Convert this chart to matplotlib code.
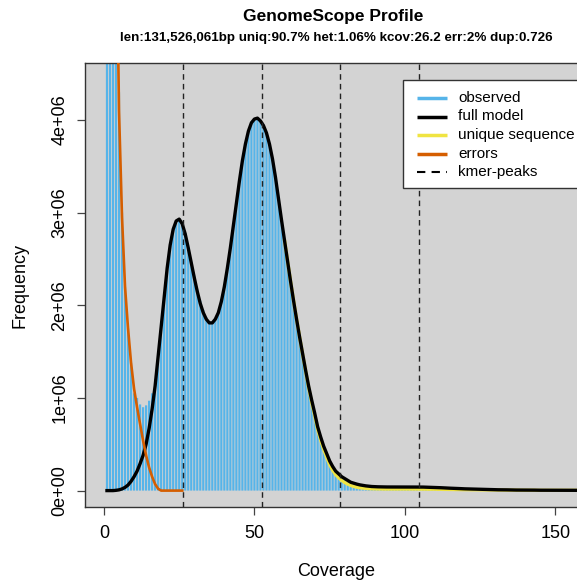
import matplotlib
matplotlib.use("Agg")
import matplotlib.pyplot as plt
from matplotlib.lines import Line2D
from matplotlib.patches import Rectangle
import numpy as np

plt.rcParams['font.family'] = ['Liberation Sans', 'DejaVu Sans']

title = "GenomeScope Profile"
subtitle = "len:131,526,061bp uniq:90.7% het:1.06% kcov:26.2 err:2% dup:0.726"

# coverage values 1..160
coverage = list(range(1, 161))

# full model (x1e6) at coverage 1..160
full_model = [
    0.000, 0.000, 0.000, 0.003, 0.008, 0.018, 0.035, 0.060, 0.100, 0.150,
    0.210, 0.290, 0.380, 0.500, 0.670, 0.880, 1.130, 1.450, 1.780, 2.100,
    2.400, 2.650, 2.820, 2.910, 2.930, 2.880, 2.770, 2.620, 2.460, 2.300,
    2.150, 2.020, 1.920, 1.850, 1.810, 1.810, 1.850, 1.920, 2.040, 2.200,
    2.400, 2.620, 2.860, 3.100, 3.340, 3.560, 3.740, 3.880, 3.970, 4.010,
    4.020, 3.990, 3.940, 3.860, 3.740, 3.580, 3.380, 3.150, 2.920, 2.700,
    2.480, 2.260, 2.050, 1.850, 1.660, 1.480, 1.300, 1.130, 0.980, 0.840,
    0.690, 0.580, 0.480, 0.400, 0.320, 0.260, 0.210, 0.180, 0.150, 0.130,
    0.110, 0.090, 0.080, 0.070, 0.062, 0.056, 0.051, 0.047, 0.044, 0.042,
    0.041, 0.040, 0.040, 0.039, 0.039, 0.039, 0.039, 0.039, 0.039, 0.039,
    0.039, 0.039, 0.039, 0.039, 0.038, 0.038, 0.037, 0.036, 0.035, 0.034,
    0.032, 0.031, 0.029, 0.028, 0.026, 0.025, 0.023, 0.022, 0.020, 0.019,
    0.018, 0.017, 0.016, 0.015, 0.014, 0.013, 0.012, 0.011, 0.011, 0.010,
    0.009, 0.009, 0.008, 0.008, 0.007, 0.007, 0.006, 0.006, 0.006, 0.005,
    0.005, 0.005, 0.005, 0.004, 0.004, 0.004, 0.004, 0.004, 0.004, 0.004,
    0.003, 0.003, 0.003, 0.003, 0.003, 0.003, 0.003, 0.003, 0.003, 0.003,
]

# observed histogram at low coverage (x1e6), coverage 1..18
observed_low = [40.0, 25.0, 14.0, 7.0, 4.3, 3.0, 2.2, 1.75, 1.38, 1.05,
                1.00, 0.93, 0.90, 0.92, 0.97, 1.05, 1.20, 1.47]
# observed histogram from coverage 19 onward (x1e6)
observed_high = [
    1.790, 2.110, 2.410, 2.660, 2.830, 2.920, 2.940, 2.890, 2.780, 2.630,
    2.470, 2.320, 2.170, 2.050, 1.950, 1.870, 1.830, 1.820, 1.860, 1.930,
    2.050, 2.200, 2.400, 2.620, 2.860, 3.100, 3.340, 3.560, 3.740, 3.880,
    3.970, 4.010, 4.020, 3.990, 3.940, 3.860, 3.740, 3.580, 3.380, 3.150,
    2.920, 2.700, 2.480, 2.260, 2.050, 1.850, 1.660, 1.480, 1.300, 1.130,
    0.980, 0.840, 0.690, 0.580, 0.480, 0.400, 0.320, 0.260, 0.210, 0.170,
    0.140, 0.115, 0.095, 0.078, 0.065, 0.055, 0.047, 0.041, 0.036, 0.032,
    0.028, 0.026, 0.024, 0.023, 0.022, 0.022, 0.021, 0.021, 0.021, 0.021,
    0.021, 0.021, 0.021, 0.021, 0.021, 0.021, 0.021, 0.021, 0.020, 0.020,
    0.020, 0.019, 0.019, 0.018, 0.018, 0.017, 0.016, 0.016, 0.015, 0.014,
    0.014, 0.013, 0.012, 0.012, 0.011, 0.011, 0.010, 0.010, 0.009, 0.009,
    0.008, 0.008, 0.007, 0.007, 0.006, 0.006, 0.006, 0.005, 0.005, 0.005,
    0.004, 0.004, 0.004, 0.004, 0.004, 0.003, 0.003, 0.003, 0.003, 0.003,
    0.003, 0.003, 0.003, 0.003, 0.003, 0.003, 0.003, 0.003, 0.003, 0.003,
    0.002, 0.002,
]
observed = observed_low + observed_high

# unique sequence (x1e6), coverage 60..160
unique_start = 60
unique_seq = [
    2.700, 2.480, 2.260, 2.050, 1.850, 1.660, 1.470, 1.290, 1.110, 0.955,
    0.810, 0.660, 0.545, 0.445, 0.360, 0.280, 0.220, 0.172, 0.138, 0.110,
    0.088, 0.070, 0.056, 0.045, 0.037, 0.031, 0.027, 0.024, 0.022, 0.020,
    0.019, 0.018, 0.018, 0.017, 0.017, 0.017, 0.017, 0.017, 0.017, 0.017,
    0.017, 0.017, 0.017, 0.017, 0.017, 0.016, 0.016, 0.016, 0.015, 0.015,
    0.015, 0.014, 0.014, 0.013, 0.013, 0.012, 0.012, 0.011, 0.011, 0.010,
    0.010, 0.010, 0.009, 0.009, 0.009, 0.008, 0.008, 0.008, 0.007, 0.007,
    0.007, 0.006, 0.006, 0.006, 0.005, 0.005, 0.005, 0.005, 0.004, 0.004,
    0.004, 0.004, 0.004, 0.004, 0.003, 0.003, 0.003, 0.003, 0.003, 0.003,
    0.003, 0.003, 0.003, 0.003, 0.003, 0.003, 0.003, 0.003, 0.003, 0.003,
    0.003,
]

# errors (x1e6), coverage 1..26
errors = [30.0, 20.0, 12.0, 6.5, 4.1, 2.95, 2.2, 1.75, 1.38, 1.10,
          0.90, 0.72, 0.54, 0.38, 0.25, 0.15, 0.07, 0.02, 0.0, 0.0,
          0.0, 0.0, 0.0, 0.0, 0.0, 0.0]

kmer_peaks = [26.2, 52.4, 78.6, 104.8]

xticks = [0, 50, 100, 150]
yticks = [0, 1e6, 2e6, 3e6, 4e6]
ytick_labels = ["0e+00", "1e+06", "2e+06", "3e+06", "4e+06"]

legend_labels = ["observed", "full model", "unique sequence", "errors", "kmer-peaks"]

COLOR_BG = "#D3D3D3"
COLOR_HIST = "#56B4E9"
COLOR_4PEAK = "black"
COLOR_2PEAK = "#F0E442"
COLOR_ERRORS = "#D55E00"

W, H = 577, 582
fig = plt.figure(figsize=(W / 100, H / 100), dpi=100)
left_px, right_px, top_px, bot_px = 85, 596, 63, 507
ax = fig.add_axes([left_px / W, 1 - bot_px / H, (right_px - left_px) / W, (bot_px - top_px) / H])
ax.set_facecolor(COLOR_BG)

cov = np.array(coverage)
s = 1e6
bars = ax.bar(cov, np.array(observed) * s, width=0.72, color=COLOR_HIST, linewidth=0, zorder=2)
for b in bars:
    b.set_snap(False)

ux = np.arange(unique_start, unique_start + len(unique_seq))
ax.plot(ux, np.array(unique_seq) * s, color=COLOR_2PEAK, lw=2.4, zorder=3)
ax.plot(cov, np.array(full_model) * s, color=COLOR_4PEAK, lw=2.4, zorder=4)
ex = np.arange(1, len(errors) + 1)
ax.plot(ex, np.array(errors) * s, color=COLOR_ERRORS, lw=1.9, zorder=5)

for p in kmer_peaks:
    ax.axvline(p, color="#222222", lw=1.0, ls=(0, (4, 3)), zorder=6)

ax.set_xlim(-6.3, 163.5)
ax.set_ylim(-0.177e6, 4.615e6)

ax.set_xticks(xticks)
ax.set_xticklabels([str(t) for t in xticks])
ax.set_yticks(yticks)
ax.set_yticklabels(ytick_labels, rotation=90, va="center")
ax.tick_params(axis="both", direction="out", length=6, width=0.9, labelsize=13, color="#444444")
ax.tick_params(axis="x", pad=7)
ax.tick_params(axis="y", pad=6)

for side in ["left", "bottom", "top", "right"]:
    ax.spines[side].set_color("#333333")
    ax.spines[side].set_linewidth(1.0)

fig.text(20 / W, 1 - 285 / H, "Frequency", rotation=90, ha="center", va="center", fontsize=13)
fig.text(336 / W, 1 - 572 / H, "Coverage", ha="center", va="center", fontsize=13)
fig.text(333 / W, 1 - 16 / H, title, ha="center", va="center", fontsize=12.5, fontweight="bold")
fig.text(336 / W, 1 - 38 / H, subtitle, ha="center", va="center", fontsize=9.6, fontweight="bold")

# legend drawn in figure pixel space
def fx(px):
    return px / W

def fy(py):
    return 1 - py / H

box_l, box_t, box_b = 403, 80, 188
fig.patches.append(Rectangle((fx(box_l), fy(box_b)), fx(620 - box_l), (box_b - box_t) / H,
                             transform=fig.transFigure, facecolor="white",
                             edgecolor="#333333", linewidth=1.0, zorder=10))
leg_styles = [
    dict(color=COLOR_HIST, lw=2.5, ls="-"),
    dict(color=COLOR_4PEAK, lw=2.5, ls="-"),
    dict(color=COLOR_2PEAK, lw=2.5, ls="-"),
    dict(color=COLOR_ERRORS, lw=2.5, ls="-"),
    dict(color="black", lw=1.5, ls=(0, (4, 3))),
]
row_y = [98, 116.5, 135, 153.5, 172]
for yy, lab, st in zip(row_y, legend_labels, leg_styles):
    fig.lines.append(Line2D([fx(417), fx(447)], [fy(yy), fy(yy)], transform=fig.transFigure,
                            zorder=11, solid_capstyle="butt", **st))
    fig.text(fx(458), fy(yy), lab, ha="left", va="center", fontsize=11, zorder=12)

fig.savefig("out.png", dpi=100)
